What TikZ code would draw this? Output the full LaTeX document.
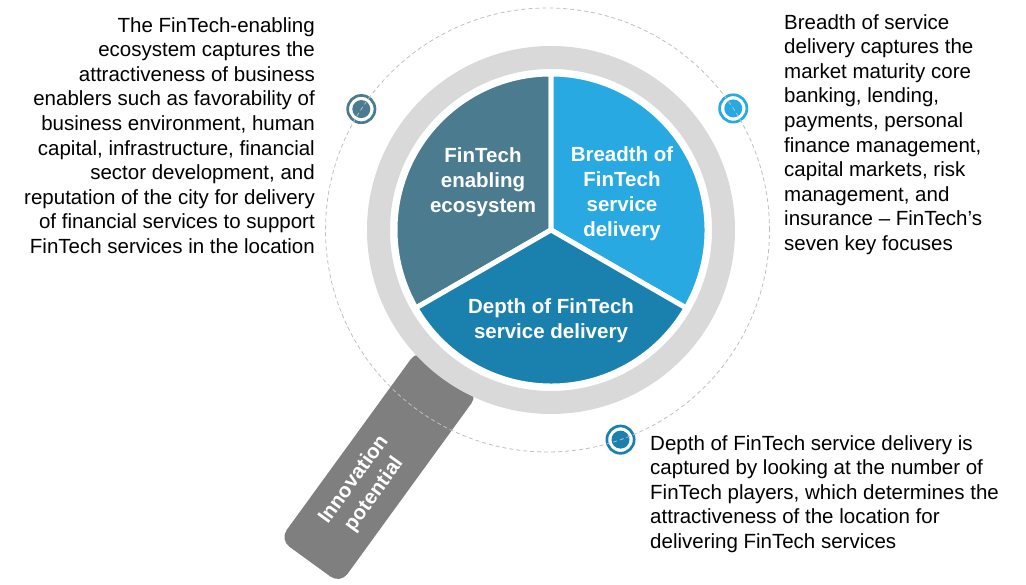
\documentclass[tikz,border=0pt]{standalone}
\usepackage{fontspec}
\setmainfont{Liberation Sans}
\definecolor{slate}{HTML}{4A7B8F}
\definecolor{sky}{HTML}{29A9E1}
\definecolor{ocean}{HTML}{1A80AD}
\definecolor{ringgray}{HTML}{D9D9D9}
\definecolor{handlegray}{HTML}{7F7F7F}
\definecolor{dashgray}{HTML}{BFBFBF}
\tikzstyle{body}=[inner sep=0pt,text=black,font=\fontsize{20.5}{24.6}\selectfont]
\tikzstyle{slice}=[draw=white,line width=5pt,line join=round]
\tikzstyle{slicetext}=[text=white,align=center,inner sep=0pt,font=\bfseries\fontsize{20.5}{25}\selectfont]
\tikzset{marker/.style={circle,draw=#1,line width=2.7pt,fill=white,inner sep=0pt,minimum size=27.3pt,
  path picture={\fill[#1] (path picture bounding box.center) circle (9pt);}}}

\begin{document}
\begin{tikzpicture}[x=1pt,y=1pt]
	\useasboundingbox (0,0) rectangle (1026,585);
	\coordinate (c) at (551,355);
	\coordinate (dc) at (547.5,355);

	% handle
	\begin{scope}[shift={(c)},rotate=234]
		\fill[handlegray,rounded corners=12pt] (175,-37.5) rectangle (410,37.5);
	\end{scope}
	\node(handle)[slicetext,rotate=54] at ([shift={(234:318)}]c) {Innovation\\potential};

	% glass
	\draw[ringgray,line width=23pt] (c) circle (172.5);
	\fill[slate,slice] (c) -- ++(90:156) arc (90:210:156) -- cycle;
	\fill[sky,slice] (c) -- ++(-30:156) arc (-30:90:156) -- cycle;
	\fill[ocean,slice] (c) -- ++(210:156) arc (210:330:156) -- cycle;
	\node(eco)[slicetext] at (483,403) {FinTech\\enabling\\ecosystem};
	\node(breadth)[slicetext] at (622,391) {Breadth of\\FinTech\\service\\delivery};
	\node(depth)[slicetext] at (551,264) {Depth of FinTech\\service delivery};

	% markers
	\node(m1)[marker=slate] at ([shift={(147:222)}]dc) {};
	\node(m2)[marker=sky] at ([shift={(33.2:222)}]dc) {};
	\node(m3)[marker=ocean] at ([shift={(-70.8:222)}]dc) {};
	\draw[dashgray,line width=0.8pt,dash pattern=on 4pt off 3pt] (dc) circle (222);

	% texts
	\node(t1)[body,align=right,anchor=north east] at (315,568)
		{The FinTech-enabling\\ecosystem captures the\\attractiveness of business\\enablers such as favorability of\\business environment, human\\capital, infrastructure, financial\\sector development, and\\reputation of the city for delivery\\of financial services to support\\FinTech services in the location};
	\node(t2)[body,align=left,anchor=north west] at (784,571)
		{Breadth of service\\delivery captures the\\market maturity core\\banking, lending,\\payments, personal\\finance management,\\capital markets, risk\\management, and\\insurance – FinTech’s\\seven key focuses};
	\node(t3)[body,align=left,anchor=north west] at (650,150)
		{Depth of FinTech service delivery is\\captured by looking at the number of\\FinTech players, which determines the\\attractiveness of the location for\\delivering FinTech services};
\end{tikzpicture}
\end{document}
